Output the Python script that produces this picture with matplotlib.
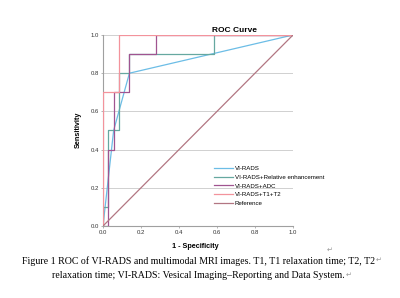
import matplotlib
matplotlib.use('Agg')
import matplotlib.pyplot as plt

# ROC points (x = 1 - specificity, y = sensitivity)
vi_x = [0.0, 0.056, 0.139, 1.0]
vi_y = [0.0, 0.5, 0.8, 1.0]

rel_x = [0.0, 0.0, 0.028, 0.028, 0.083, 0.083, 0.139, 0.139, 0.583, 0.583, 1.0]
rel_y = [0.0, 0.1, 0.1, 0.5, 0.5, 0.8, 0.8, 0.9, 0.9, 1.0, 1.0]

adc_x = [0.0, 0.028, 0.028, 0.056, 0.056, 0.139, 0.139, 0.278, 0.278, 1.0]
adc_y = [0.0, 0.0, 0.4, 0.4, 0.7, 0.7, 0.9, 0.9, 1.0, 1.0]

t1t2_x = [0.0, 0.0, 0.083, 0.083, 1.0]
t1t2_y = [0.0, 0.7, 0.7, 1.0, 1.0]

ref_x = [0.0, 1.0]
ref_y = [0.0, 1.0]

labels = ['VI-RADS', 'VI-RADS+Relative enhancement', 'VI-RADS+ADC', 'VI-RADS+T1+T2', 'Reference']
colors = ['#6cbde6', '#66a8a0', '#a05490', '#f3939c', '#b27682']
ticks = [0.0, 0.2, 0.4, 0.6, 0.8, 1.0]

plt.rcParams['font.family'] = ['Liberation Sans', 'DejaVu Sans']

fig = plt.figure(figsize=(4.0, 2.98), dpi=100)
ax = fig.add_axes([0.2575, 0.2416, 0.475, 0.641])

series = [(vi_x, vi_y), (rel_x, rel_y), (adc_x, adc_y), (t1t2_x, t1t2_y), (ref_x, ref_y)]
for (xs, ys), lab, c in zip(series, labels, colors):
    ax.plot(xs, ys, color=c, lw=0.9, label=lab, zorder=3)

ax.set_xlim(0, 1)
ax.set_ylim(0, 1)
ax.set_xticks(ticks)
ax.set_yticks(ticks)
ax.set_xticklabels([f'{t:.1f}' for t in ticks])
ax.set_yticklabels([f'{t:.1f}' for t in ticks])
ax.tick_params(labelsize=4.3, length=1.5, width=0.5, color='#999999', labelcolor='#333333', pad=1.5)
ax.yaxis.grid(True, color='#d0d0d0', lw=0.7)
ax.set_axisbelow(True)
for s in ['top', 'right']:
    ax.spines[s].set_visible(False)
for s in ['left', 'bottom']:
    ax.spines[s].set_color('#a0a0a0')
    ax.spines[s].set_linewidth(0.8)

fig.text(0.585, 0.899, 'ROC Curve', fontsize=6, fontweight='bold', ha='center', va='center')
fig.text(0.195, 0.565, 'Sensitivity', fontsize=5.2, fontweight='bold', rotation=90, ha='center', va='center')
fig.text(0.4875, 0.172, '1 - Specificity', fontsize=5.2, fontweight='bold', ha='center', va='center')
fig.text(0.825, 0.162, '\u21b5', fontsize=5, color='#999999', ha='center', va='center', family='DejaVu Sans')

ax.legend(loc='upper left', bbox_to_anchor=(0.57, 0.33), frameon=False, fontsize=4.4,
          handlelength=3.0, handletextpad=0.3, labelspacing=0.55, borderpad=0)

cap1 = 'Figure 1 ROC of VI-RADS and multimodal MRI images. T1, T1 relaxation time; T2, T2'
cap2 = 'relaxation time; VI-RADS: Vesical Imaging\u2013Reporting and Data System.'
renderer = fig.canvas.get_renderer()
for txt, ypix, xc in [(cap1, 261, 0.495), (cap2, 276, 0.495)]:
    t = fig.text(xc, 1 - ypix / 298, txt, fontsize=7.1, ha='center', va='center', family='Liberation Serif')
    bb = t.get_window_extent(renderer)
    fig.text((bb.x1 + 1) / 400, 1 - (ypix - 1) / 298, '\u21b5', fontsize=5, color='#999999',
             ha='left', va='center', family='DejaVu Sans')

fig.savefig('out.png', dpi=100)
